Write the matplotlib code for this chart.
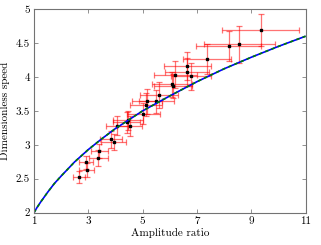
import matplotlib
matplotlib.use("Agg")
import matplotlib.pyplot as plt

plt.rcParams["font.family"] = "serif"
plt.rcParams["font.serif"] = ["cmr10"]
plt.rcParams["axes.formatter.use_mathtext"] = True
plt.rcParams["mathtext.fontset"] = "cm"

# measured points
amp = [2.66, 2.94, 2.92, 3.37, 3.41, 3.83, 3.93, 4.05, 4.42, 4.46, 4.52,
       5.03, 5.13, 5.16, 5.50, 5.59, 6.08, 6.12, 6.20, 6.63, 6.65, 6.78,
       7.37, 8.17, 8.56, 9.34]
speed = [2.53, 2.63, 2.74, 2.81, 2.91, 3.08, 3.04, 3.28, 3.33, 3.36, 3.28,
         3.46, 3.59, 3.64, 3.64, 3.73, 3.89, 3.87, 4.03, 4.07, 4.16, 4.01,
         4.27, 4.45, 4.48, 4.69]
amp_err = [0.22, 0.28, 0.25, 0.35, 0.30, 0.40, 0.45, 0.40, 0.50, 0.55, 0.45,
           0.60, 0.60, 0.55, 0.65, 0.70, 0.75, 0.70, 0.80, 0.80, 0.85, 0.75,
           0.90, 1.20, 1.30, 1.40]
speed_err = [0.09, 0.10, 0.09, 0.12, 0.10, 0.13, 0.12, 0.14, 0.15, 0.14, 0.15,
             0.16, 0.17, 0.18, 0.17, 0.19, 0.19, 0.18, 0.20, 0.21, 0.20, 0.20,
             0.22, 0.22, 0.27, 0.24]

# theory curve
fit_x = [1, 1.1, 1.25, 1.5, 1.75, 2, 2.5, 3, 3.5, 4, 5, 6, 7, 8, 9, 10, 11]
fit_y = [2.00, 2.07, 2.16, 2.30, 2.43, 2.54, 2.75, 2.93, 3.09, 3.24, 3.50,
         3.72, 3.93, 4.12, 4.29, 4.45, 4.60]

xticks = [1, 3, 5, 7, 9, 11]
yticks = [2, 2.5, 3, 3.5, 4, 4.5, 5]
ytick_labels = ["2", "2.5", "3", "3.5", "4", "4.5", "5"]

fig = plt.figure(figsize=(3.21, 2.45), dpi=100)
ax = fig.add_axes([0.106, 0.132, 0.846, 0.831])

ax.errorbar(amp, speed, xerr=amp_err, yerr=speed_err, fmt="none",
            ecolor="red", elinewidth=0.9, capsize=2, capthick=0.9, alpha=0.55)
ax.plot(amp, speed, "s", color="black", markersize=2)

ax.plot(fit_x, fit_y, color="blue", lw=1.2, solid_capstyle="butt")
ax.plot(fit_x, fit_y, color="green", lw=1.2, dashes=(2, 2))

ax.set_xlim(1, 11)
ax.set_ylim(2, 5)
ax.set_xticks(xticks)
ax.set_xticklabels([str(t) for t in xticks])
ax.set_yticks(yticks)
ax.set_yticklabels(ytick_labels)
ax.tick_params(direction="in", length=3, width=0.6, top=True, right=True,
               labelsize=8, pad=3, colors="0.5", labelcolor="black")
for s in ax.spines.values():
    s.set_color("0.45")
    s.set_linewidth(0.8)

ax.set_xlabel("Amplitude ratio", fontsize=8, labelpad=1)
ax.set_ylabel("Dimensionless speed", fontsize=8, labelpad=4)

fig.savefig("out.png", dpi=100)
